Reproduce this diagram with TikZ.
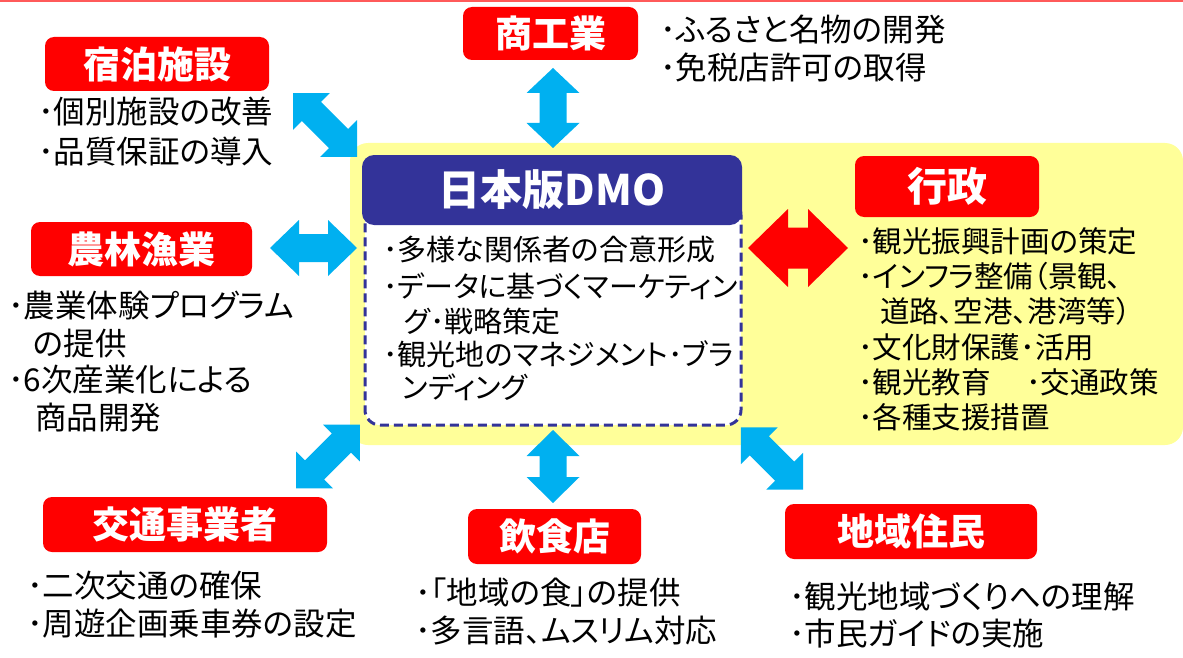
\documentclass[tikz,border=0pt]{standalone}
\usepackage{fontspec}
\setmainfont{Noto Sans CJK JP}[RawFeature=+palt]
\definecolor{lblred}{HTML}{FF0000}
\definecolor{arrcyan}{HTML}{00B0F0}
\definecolor{dmoblue}{HTML}{333399}
\definecolor{bgyellow}{HTML}{FFFF99}
\definecolor{topline}{HTML}{FF5A5A}
\tikzset{
  lbl/.style={fill=lblred, rounded corners=9pt, text=white, inner sep=0pt,
    font=\fontsize{37}{40}\selectfont\bfseries},
  txt/.style={anchor=west, inner sep=0pt, text=black, text height=25pt, text depth=4pt,
    font=\fontsize{29.5}{34}\selectfont},
  txtl/.style={txt, text height=27pt, text depth=4pt, font=\fontsize{31.5}{36}\selectfont},
  dtxt/.style={txt, font=\fontsize{29}{33}\selectfont},
  pics/dbl/.style args={#1/#2/#3/#4}{code={
    \fill[pic actions] (-#1,0) -- (-#1+#2,#3) -- (-#1+#2,#4) -- (#1-#2,#4) -- (#1-#2,#3)
      -- (#1,0) -- (#1-#2,-#3) -- (#1-#2,-#4) -- (-#1+#2,-#4) -- (-#1+#2,-#3) -- cycle;
  }}
}
\begin{document}
\begin{tikzpicture}[x=1pt,y=-1pt]
\useasboundingbox (0,0) rectangle (1183,658);
\fill[white] (0,0) rectangle (1183,658);
% top line
\coordinate (tl) at (0,0.8);
\coordinate (tr) at (1183,0.8);
\draw[topline, line width=1.6pt] (tl) -- (tr);
% yellow background
\node[fill=bgyellow, rounded corners=18pt, minimum width=833, minimum height=302, inner sep=0pt] (bg) at (766.5,294) {};
% DMO body and header
\node[draw=dmoblue, dash pattern=on 9pt off 5pt, line width=3pt, fill=white, rounded corners=15pt,
  minimum width=376, minimum height=225, inner sep=0pt] (body) at (553,312.5) {};
\node[fill=dmoblue, rounded corners=12pt, minimum width=380, minimum height=70, inner sep=0pt,
  text=white, font=\fontsize{42}{46}\selectfont\bfseries] (dmo) at (552,190) {日本版DMO};
\node[dtxt] (d1) at (383,250) {･多様な関係者の合意形成};
\node[dtxt] (d2) at (383,287) {･データに基づくマーケティン};
\node[dtxt] (d3) at (404,322) {グ･戦略策定};
\node[dtxt] (d4) at (383,355) {･観光地のマネジメント･ブラ};
\node[dtxt] (d5) at (402,388) {ンディング};
% labels
\node[lbl, minimum width=175, minimum height=53] (shoko) at (550.5,33.5) {商工業};
\node[lbl, minimum width=224, minimum height=54] (shuku) at (157,64) {宿泊施設};
\node[lbl, minimum width=221, minimum height=54] (nou) at (141.5,249) {農林漁業};
\node[lbl, minimum width=184, minimum height=61, font=\fontsize{40}{44}\selectfont\bfseries] (gyo) at (947,186.5) {行政};
\node[lbl, minimum width=284, minimum height=55] (kotsu) at (185,524.5) {交通事業者};
\node[lbl, minimum width=173, minimum height=55] (inshoku) at (554.5,536.5) {飲食店};
\node[lbl, minimum width=252, minimum height=55] (chiiki) at (911,531.5) {地域住民};
% texts
\node[txtl] (s1) at (660,30) {･ふるさと名物の開発};
\node[txtl] (s2) at (660,68) {･免税店許可の取得};
\node[txtl] (h1) at (38,112) {･個別施設の改善};
\node[txtl] (h2) at (38,152) {･品質保証の導入};
\node[txtl] (n1) at (8,306) {･農業体験プログラム};
\node[txtl] (n2) at (33,344) {の提供};
\node[txtl] (n3) at (8,380) {･6次産業化による};
\node[txtl] (n4) at (35,418) {商品開発};
\node[txt] (g1) at (858,242) {･観光振興計画の策定};
\node[txt] (g2) at (858,277) {･インフラ整備（景観、};
\node[txt] (g3) at (880,312) {道路、空港、港湾等）};
\node[txt] (g4) at (858,348) {･文化財保護･活用};
\node[txt] (g5) at (858,383) {･観光教育};
\node[txt] (g6) at (1026,383) {･交通政策};
\node[txt] (g7) at (858,418) {･各種支援措置};
\node[txtl] (k1) at (27,586) {･二次交通の確保};
\node[txtl] (k2) at (27,624) {･周遊企画乗車券の設定};
\node[txtl] (i1) at (415,593) {･「地域の食」の提供};
\node[txtl] (i2) at (415,631) {･多言語、ムスリム対応};
\node[txtl] (c1) at (789,597) {･観光地域づくりへの理解};
\node[txtl] (c2) at (789,634) {･市民ガイドの実施};
% block arrows
\pic[fill=arrcyan, rotate=90] at (553,108) {dbl={40/25/26.5/13.5}};
\pic[fill=arrcyan, rotate=90] at (553,466.5) {dbl={36.5/26/26.5/13.5}};
\pic[fill=arrcyan] at (313.5,248) {dbl={43.5/29/28/14}};
\pic[fill=lblred] at (798,248) {dbl={50/40/39/20.5}};
\pic[fill=arrcyan, rotate=-45] at (325,125) {dbl={45.25/26/26/13.5}};
\pic[fill=arrcyan, rotate=45] at (328,456.5) {dbl={45/26/26/13.5}};
\pic[fill=arrcyan, rotate=-45] at (772,458.5) {dbl={44/26/26/13.5}};
\end{tikzpicture}
\end{document}
